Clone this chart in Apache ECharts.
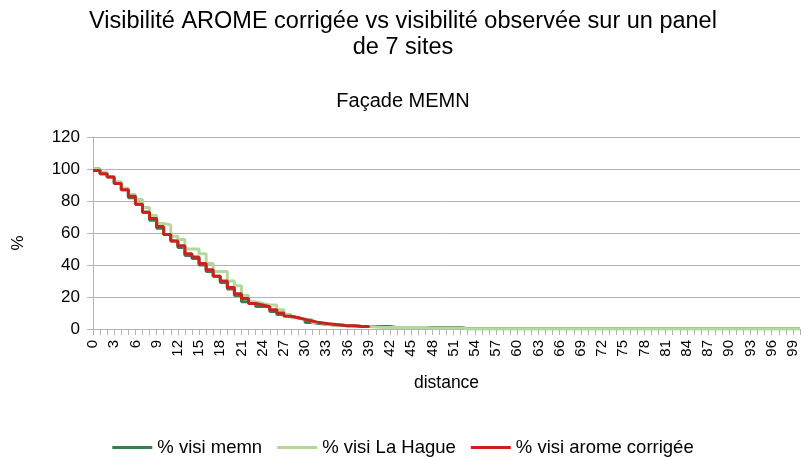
<!DOCTYPE html>
<html><head><meta charset="utf-8">
<script src="https://cdn.jsdelivr.net/npm/echarts@6/dist/echarts.min.js"></script>
<style>html,body{margin:0;padding:0;background:#fff}#c{width:806px;height:457px}</style>
</head><body><div id="c"></div>
<script>
const categories = [];
for (let d = 0; d <= 100; d++) categories.push(String(d));

const memn = [100,97,95,91,87,82,78,73,68,63,59,55,51,46,44,40,36,33,29,25,21,17,16,14,14,11,9,8,7,6,4,3.5,3,2.5,2.5,2,2,1.5,1.5,1.5,1.5,1.5,1,1,1,1,1,1,1,1,1,1,
0.2,0.2,0.2,0.2,0.2,0.2,0.2,0.2,0.2,0.2,0.2,0.2,0.2,0.2,0.2,0.2,0.2,0.2,0.2,0.2,0.2,0.2,0.2,0.2,0.2,0.2,0.2,0.2,0.2,0.2,0.2,0.2,0.2,0.2,0.2,0.2,0.2,0.2,0.2,0.2,0.2,0.2,0.2,0.2,0.2,0.2,0.2,0.2,0.2];
const laHague = [100,98,95,92,88,84,81,76,71,66,65,58,56,50,50,47,41,36,36,30,27,21,17,16,15,15,12,9,7,6,6,4,3,2.5,2.5,2,2,1.5,1.5,1.2,1,1,1,1,1,1,1,0.6,0.6,0.6,0.6,0.6,
0.2,0.2,0.2,0.2,0.2,0.2,0.2,0.2,0.2,0.2,0.2,0.2,0.2,0.2,0.2,0.2,0.2,0.2,0.2,0.2,0.2,0.2,0.2,0.2,0.2,0.2,0.2,0.2,0.2,0.2,0.2,0.2,0.2,0.2,0.2,0.2,0.2,0.2,0.2,0.2,0.2,0.2,0.2,0.2,0.2,0.2,0.2,0.2,0.2];
const aromeCorr = [99,97,95,91,87,83,78,73,69,64,59,55,52,47,45,41,37,33,30,26,22,19,16,15,14,12,10,8,7,6,5,4,3.5,3,2.5,2,2,1.5,1.5,1];

const seriesNames = ['% visi memn', '% visi La Hague', '% visi arome corrigée'];
const yTicks = [0, 20, 40, 60, 80, 100, 120];

const chart = echarts.init(document.getElementById('c'), null, {renderer: 'canvas'});
const FONT = '"Liberation Sans", Arial, sans-serif';
function mk(name, data, color) {
  return {name, type: 'line', data, step: 'end', showSymbol: false, symbol: 'none',
    lineStyle: {width: 3, color}, itemStyle: {color}, animation: false};
}
chart.setOption({
  animation: false,
  textStyle: {fontFamily: FONT},
  title: [
    {text: 'Visibilité AROME corrigée vs visibilité observée sur un panel\nde 7 sites', left: 'center', top: 9, padding: 0,
     textStyle: {fontFamily: FONT, fontSize: 23.5, fontWeight: 'normal', color: '#000', lineHeight: 26}},
    {text: 'Façade MEMN', left: 'center', top: 91, padding: 0,
     textStyle: {fontFamily: FONT, fontSize: 20, fontWeight: 'normal', color: '#000'}}
  ],
  legend: {top: 438, left: 'center', padding: 0, icon: 'rect', itemWidth: 40, itemHeight: 3, itemGap: 15,
    textStyle: {fontFamily: FONT, fontSize: 18.5, color: '#000'}, data: seriesNames},
  grid: {left: 93, right: 6, top: 137, bottom: 128, containLabel: false},
  xAxis: {type: 'category', data: categories, boundaryGap: false,
    name: 'distance', nameLocation: 'middle', nameGap: 45,
    nameTextStyle: {fontFamily: FONT, fontSize: 17.5, color: '#000'},
    axisLine: {show: true, lineStyle: {color: '#b3b3b3', width: 1}},
    axisTick: {show: true, interval: 0, length: 6, lineStyle: {color: '#b3b3b3'}},
    axisLabel: {interval: 2, rotate: 90, fontFamily: FONT, fontSize: 15, color: '#000', margin: 11},
    splitLine: {show: false}},
  yAxis: {type: 'value', min: 0, max: 120, interval: 20,
    name: '%', nameLocation: 'middle', nameGap: 66, nameRotate: 90,
    nameTextStyle: {fontFamily: FONT, fontSize: 17, color: '#000', padding: [0, 20, 0, 0]},
    axisLine: {show: true, lineStyle: {color: '#b3b3b3'}},
    axisTick: {show: true, length: 6, lineStyle: {color: '#b3b3b3'}},
    axisLabel: {fontFamily: FONT, fontSize: 17, color: '#000', margin: 13,
      formatter: v => yTicks.includes(v) ? String(v) : ''},
    splitLine: {show: true, lineStyle: {color: '#b3b3b3', width: 1}}},
  series: [
    mk(seriesNames[0], memn, '#3b7d4c'),
    mk(seriesNames[1], laHague, '#b4d89c'),
    mk(seriesNames[2], aromeCorr, '#c9211e')
  ]
});
</script></body></html>
